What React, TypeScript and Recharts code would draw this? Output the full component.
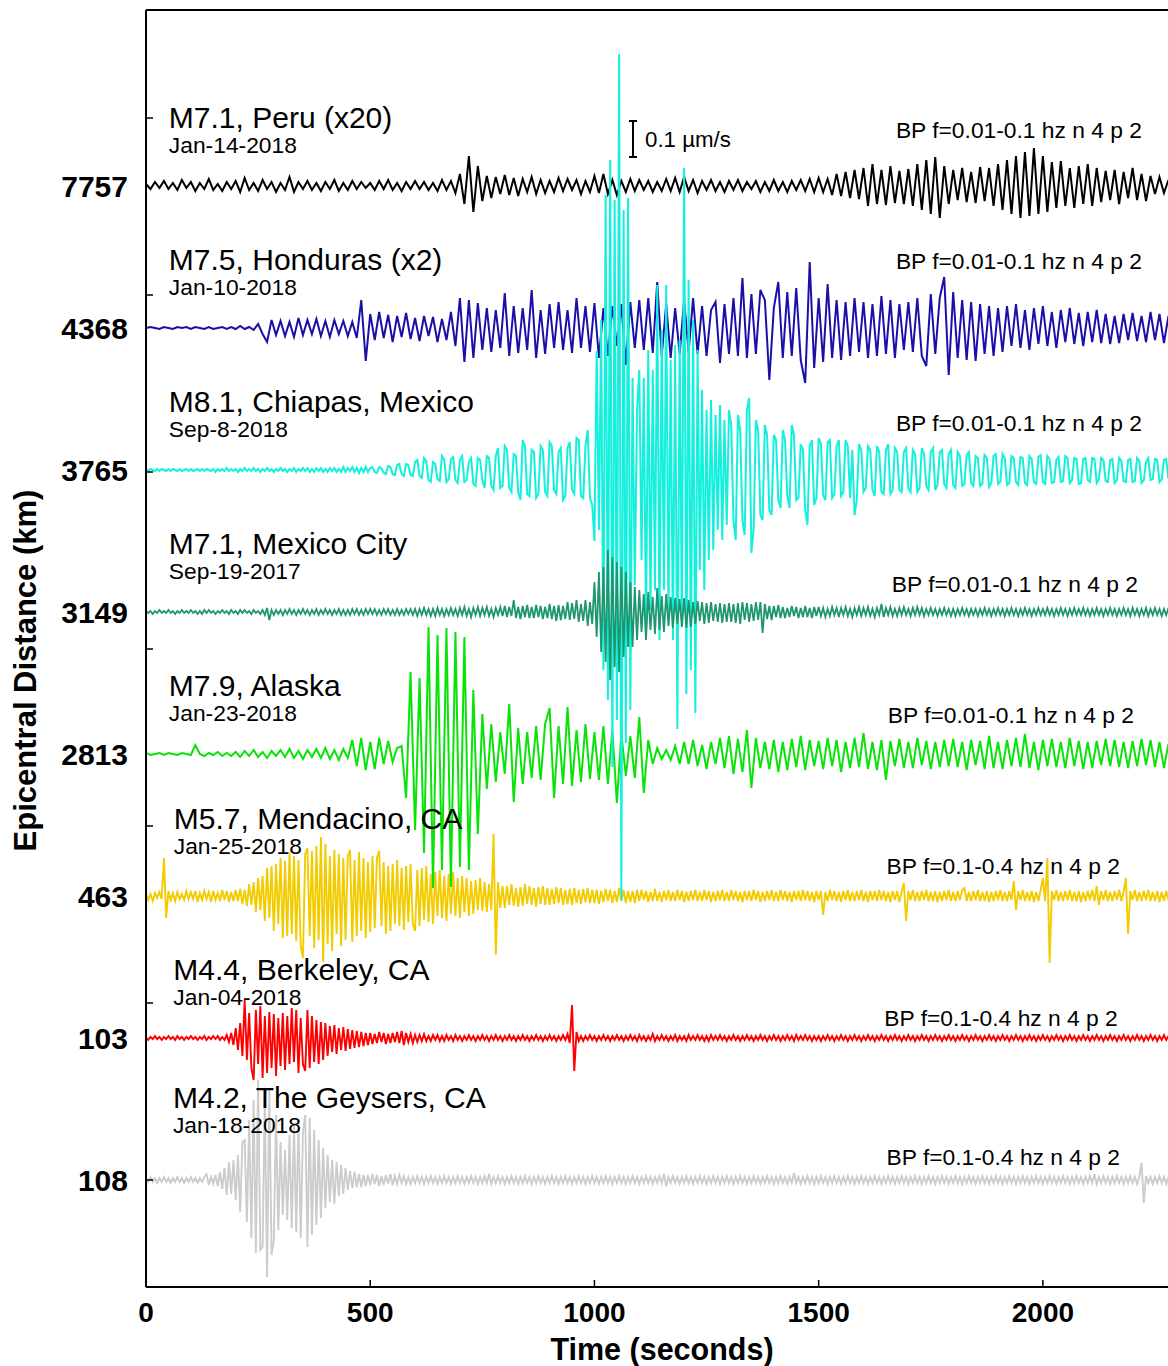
import {
  ComposedChart,
  ErrorBar,
  Line,
  ReferenceLine,
  Scatter,
  XAxis,
  YAxis,
} from "recharts"

// traces are stacked TRACE_GAP apart; amplitudes in the same units
const TRACE_GAP = 142

const EVENTS = [
  "M7.1, Peru (x20)",
  "M7.5, Honduras (x2)",
  "M8.1, Chiapas, Mexico",
  "M7.1, Mexico City",
  "M7.9, Alaska",
  "M5.7, Mendacino, CA",
  "M4.4, Berkeley, CA",
  "M4.2, The Geysers, CA",
]
const DATES = [
  "Jan-14-2018",
  "Jan-10-2018",
  "Sep-8-2018",
  "Sep-19-2017",
  "Jan-23-2018",
  "Jan-25-2018",
  "Jan-04-2018",
  "Jan-18-2018",
]
const DISTANCES = ["7757", "4368", "3765", "3149", "2813", "463", "103", "108"]
const FILTERS = [
  "BP f=0.01-0.1 hz n 4 p 2",
  "BP f=0.01-0.1 hz n 4 p 2",
  "BP f=0.01-0.1 hz n 4 p 2",
  "BP f=0.01-0.1 hz n 4 p 2",
  "BP f=0.01-0.1 hz n 4 p 2",
  "BP f=0.1-0.4 hz n 4 p 2",
  "BP f=0.1-0.4 hz n 4 p 2",
  "BP f=0.1-0.4 hz n 4 p 2",
]
const TIME_TICKS = [0, 500, 1000, 1500, 2000]
const MINOR_TICKS = [0, 177, 354, 531, 708, 885, 1062]
// seconds between samples of each trace
const SAMPLE_SECONDS = [10, 10, 5, 5, 10, 5, 5, 5]

const PERU = [
  2, -3, 4, -2, 5, -3, 3, -4, 6, -2,
  4, -5, 3, -3, 7, -4, 2, -5, 4, -3,
  5, -6, 8, -4, 3, -5, 6, -3, 4, -6,
  3, -4, 9, -6, 4, -3, 5, -4, 3, -5,
  4, -3, 6, -5, 3, -4, 5, -3, 4, -2,
  3, -4, 5, -3, 6, -4, 3, -5, 4, -3,
  5, -3, 4, -4, 3, -5, 6, -4, 5, -7,
  12, -18, 30, -26, 20, -15, 10, -12, 9, -8,
  11, -9, 8, -10, 7, -6, 9, -8, 6, -7,
  5, -6, 8, -5, 7, -4, 6, -8, 5, -6,
  10, -7, 12, -8, 6, -9, 5, -6, 7, -5,
  6, -4, 5, -6, 4, -5, 7, -5, 8, -6,
  9, -5, 6, -7, 5, -4, 6, -5, 4, -6,
  5, -4, 6, -5, 4, -3, 5, -6, 4, -5,
  6, -5, 4, -6, 5, -4, 6, -5, 7, -6,
  8, -6, 7, -9, 12, -10, 14, -12, 16, -13,
  18, -20, 22, -18, 16, -19, 20, -17, 15, -18,
  17, -20, 22, -24, 26, -28, 29, -32, 20, -18,
  16, -14, 18, -16, 14, -17, 19, -15, 18, -20,
  22, -24, 26, -28, 30, -32, 34, -30, 38, -28,
  30, -26, 24, -22, 25, -20, 18, -22, 20, -18,
  22, -20, 18, -16, 15, -14, 16, -18, 14, -12,
  18, -14, 12, -15, 10, -8, 9, -7, 6,
]
const HONDURAS = [
  0, 1, 0, -1, 1, 0, -1, 1, 0, 1,
  -1, 1, 0, -1, 1, -1, 0, 1, -1, 1,
  -1, 2, -1, 1, -2, 4, -6, -14, 8, -7,
  7, -8, 6, -9, 10, -7, 8, -6, 9, -8,
  7, -9, 8, -6, 7, -8, 6, -10, 28, -33,
  14, -12, 16, -10, 13, -14, 12, -9, 15, -11,
  10, -13, 12, -8, 11, -14, 9, -12, 16, -18,
  30, -34, 28, -30, 25, -22, 20, -24, 18, -20,
  35, -28, 22, -25, 20, -22, 38, -30, 18, -26,
  24, -20, 26, -22, 18, -25, 30, -20, 22, -24,
  25, -30, 20, -28, 22, -18, 24, -37, 26, -20,
  28, -22, 30, -25, 46, -28, 24, -30, 20, -26,
  28, -24, 30, -26, 22, -28, 18, 26, -35, 24,
  -26, 30, -28, 50, -30, 34, -26, 38, 28, -52,
  20, 46, -30, 36, -28, 40, -32, -55, 66, -40,
  30, -34, 44, -30, 28, -32, 26, -28, 30, -24,
  26, -30, 24, -28, 32, -26, 28, -30, 24, -22,
  26, -24, 30, -28, -38, 34, -26, 30, 51, -47,
  36, -30, 28, -32, 26, -33, 24, -26, 22, -28,
  20, -24, 22, -18, 24, -20, 18, -22, 20, -16,
  22, -18, 16, -20, 18, -14, 20, -16, 15, -18,
  16, -14, 18, -15, 14, -16, 12, -15, 14, -12,
  15, -13, 12, -14, 16, -12, 14, -15, 12,
]
const CHIAPAS = [
  1, -1, 1, 0, -1, 1, -1, 1, 0, -1, 1, -1, 1, 0, -1, 1, -1, 0, 1, -1,
  1, -1, 0, 1, -1, 1, -1, 1, 0, -1, 1, -2, 1, -1, 1, -1, 2, -1, 1, -1,
  1, -2, 1, -1, 2, -1, 1, -1, 2, -1, 1, -2, 1, -1, 2, -1, 1, -2, 1, -1,
  2, -1, 1, -2, 1, -1, 2, -2, 1, -1, 2, -1, 2, -2, 1, -2, 2, -1, 2, -2,
  1, -2, 2, -1, 2, -2, 1, -2, 3, -2, 2, -1, 3, -2, 2, -3, 2, -2, 3, -2,
  2, 3, -2, -3, 3, 2, -3, -4, 4, 3, -4, -5, 5, 6, -4, -6, 6, 5, -5, -6,
  8, 10, -6, -8, 12, 9, -10, -12, 8, 6, -9, -11, 14, 10, -12, -9, 11, 13, -10, -13,
  10, 14, -12, -10, 8, 12, -14, -16, 12, 10, -10, -18, 14, 12, -16, -20, 14, 22, -18, -16,
  24, 20, -18, -22, 16, 14, -22, -30, 30, 24, -24, -26, 20, 18, -28, -24, 24, 20, -22, -26,
  28, 24, -20, -24, 18, 22, -30, -26, 22, 28, -20, -24, 32, 30, -26, -28, 24, 40, -28, -35,
  -71, 119, -60, 150, -200, 275, -230, 310, -297, 270, -250, 416, -430, 260, -273, 272, -240, 92, -115, 60,
  100, -90, 92, -160, 120, -140, 100, -120, 185, -170, 140, -120, 185, -150, 110, -170, 125, -259, 130, -150,
  302, -224, 190, -200, 150, -243, 120, -100, 80, -120, 60, -90, 70, -80, 55, -60, 65, -70, 50, -55,
  60, 45, -50, -70, 55, 40, -50, -65, 60, 72, -83, -60, 50, 40, -45, -50, 45, 35, -40, -45,
  35, 30, -30, -38, 40, 30, -25, -38, 45, 35, -30, -28, 26, 20, -40, -55, 24, 30, -35, -28,
  32, 26, -25, -30, 28, 30, -28, -24, 24, 30, -26, -22, 30, 24, -28, 20, -45, -30, 26, 20,
  -22, -18, 24, 20, -20, -26, 24, 18, -22, -24, 20, 26, -24, -20, 22, 18, -20, -22, 18, 22,
  -18, -22, 20, 16, -22, -18, 22, 16, -16, -20, 18, 22, -20, -15, 18, 20, -14, -18, 16, 20,
  -15, -18, 18, 14, -16, -14, 15, 18, -13, -16, 14, 12, -16, -14, 15, 12, -17, -13, 14, 16,
  -14, -12, 16, 12, -15, -13, 14, 12, -12, -15, 13, 12, -13, -15, 14, 11, -12, -14, 13, 15,
  -12, -14, 14, 11, -13, -12, 10, 13, -12, -11, 14, 12, -13, -10, 12, 11, -14, -13, 11, 12,
  -10, -12, 12, 11, -13, -9, 12, 10, -11, -12, 10, 11, -13, -10, 12, 9, -11, -12, 10, 11,
  -12, -11, 12, 9, -13, -10, 8, 12, -10, -9, 11, 10, -12, -9, 10, 11, -9,
]
const MEXICO_CITY = [
  1, -1, 1, -2, 1, -1, 2, -1, 1, -1, 2, -1, 1, -2, 1, -1, 2, -1, 1, -1,
  2, -1, 1, -2, 1, -2, 2, -1, 2, -1, 1, -2, 1, -1, 2, -1, 1, -2, 2, -1,
  1, -2, 2, -1, 2, -1, 1, -2, 2, -1, 1, -2, 2, -3, 4, -8, 2, -3, 2, -2,
  2, -3, 2, -2, 3, -2, 2, -3, 2, -2, 3, -2, 2, -3, 2, -2, 3, -3, 2, -2,
  3, -2, 2, -3, 2, -2, 3, -3, 2, -3, 2, -3, 3, -2, 3, -3, 2, -3, 3, -2,
  3, -2, 3, -3, 2, -3, 3, -2, 3, -3, 2, -3, 3, -3, 2, -3, 3, -2, 3, -3,
  3, -4, 3, -3, 4, -3, 3, -4, 3, -4, 4, -3, 3, -4, 3, -3, 4, -3, 3, -4,
  4, -3, 5, -4, 3, -5, 4, -3, 5, -4, 4, -3, 5, -4, 3, -5, 4, -3, 5, -4,
  6, -5, 5, -4, 12, -6, 5, -7, 6, -5, 7, -6, 5, -6, 7, -5, 6, -7, 5, -6,
  8, -7, 6, -9, 7, -8, 6, -7, 10, -8, 9, -7, 12, -10, 8, -9, 12, -14, 10, -12,
  30, -25, 40, -40, 45, -50, 62, -68, 55, -55, 50, -60, 45, -45, 40, -35, 30, -35, 25, -28,
  22, -20, 18, -28, 20, -18, 15, -22, 24, -18, 16, -20, 18, -14, 15, -16, 14, -12, 13, -15,
  14, -16, 12, -15, 10, -12, 11, -9, 10, -12, 9, -11, 10, -9, 8, -10, 9, -11, 8, -10,
  9, -10, 8, -11, 9, -12, 10, -8, 9, -10, 8, -9, 10, -8, 10, -21, 8, -7, 6, -8,
  6, -5, 7, -6, 5, -6, 4, -5, 6, -4, 5, -6, 4, -5, 6, -5, 4, -6, 5, -4,
  5, -4, 4, -5, 3, -4, 5, -3, 4, -5, 4, -3, 5, -4, 3, -5, 4, -3, 5, -4,
  4, -3, 5, -4, 3, -5, 4, -3, 8, -5, 4, -3, 5, -4, 3, -4, 4, -3, 5, -3,
  3, -4, 4, -3, 5, -3, 4, -4, 3, -3, 4, -3, 3, -4, 3, -3, 4, -3, 3, -4,
  3, -4, 3, -3, 4, -3, 3, -4, 3, -3, 3, -4, 3, -3, 4, -3, 3, -4, 3, -3,
  4, -3, 3, -4, 3, -3, 4, -3, 3, -4, 3, -3, 4, -3, 3, -4, 3, -3, 4, -3,
  3, -3, 4, -3, 3, -4, 3, -3, 4, -3, 3, -4, 3, -3, 4, -3, 3, -3, 4, -3,
  3, -4, 3, -3, 4, -3, 3, -4, 3, -3, 4, -3, 3, -4, 3, -3, 4, -3, 3, -4,
  4, -3, 3, -4, 3, -3, 4, -4, 3, -3, 4, -3, 3, -4, 3, -3, 4,
]
const ALASKA = [
  1, -1, 0, 1, -1, 1, 0, -1, 1, 0,
  -1, 9, 0, -2, 1, -1, 2, -2, 1, -2,
  2, -3, 3, -2, 4, -3, 2, -4, 3, -2,
  4, -3, 5, -4, 3, -5, 4, -3, 5, -4,
  6, -5, 4, -6, 5, -4, 14, -12, 16, -16,
  12, -15, 16, -10, 13, -8, 6, 8, -44, 82,
  -76, 76, -99, 127, -134, 119, -116, 126, -133, 122,
  -113, 117, -116, 64, -80, 40, -35, 30, -28, 22,
  -20, 50, -48, 26, -30, 22, -24, 28, -26, 30,
  46, -44, 28, -30, 47, -32, 24, -28, 30, -25,
  22, -26, 28, -30, 24, -49, 20, -22, 18, -24,
  37, -39, 14, -10, 6, -5, 4, -6, 8, -10,
  12, -10, 14, -12, 9, -15, 12, -10, 16, -14,
  18, -20, 15, -18, 24, -34, 16, -14, 12, -15,
  14, -18, 12, -16, 15, -13, 18, -16, 14, -12,
  13, -15, 16, -12, 14, -18, 12, -14, 16, -13,
  21, -15, 12, -16, 14, -26, 13, -12, 15, -14,
  12, -14, 16, -11, 13, -15, 12, -13, 14, -12,
  15, -13, 12, -16, 14, -11, 13, -15, 18, -14,
  12, -15, 14, -12, 16, -13, 20, -14, 12, -16,
  14, -12, 15, -13, 12, -14, 16, -12, 13, -15,
  12, -14, 13, -11, 15, -12, 14, -13, 12, -14,
  13, -12, 15, -11, 14, -13, 12, -14, 10,
]
const MENDOCINO = [
  3, -4, 2, -5, 3, -2, 4, -3, 38, -22, 5, -4, 3, -5, 4, -3, 2, -4, 5, -3,
  4, -3, 5, -6, 3, -4, 5, -3, 4, -6, 5, -4, 3, -5, 6, -4, 5, -6, 4, -5,
  6, -5, 7, -8, 6, -10, 12, -9, 14, -16, 18, -14, 20, -25, 28, -22, 30, -35, 32, -28,
  38, -42, 35, -40, 44, -38, 40, -45, 36, -50, -62, 42, 48, -40, 45, -52, 50, -44, 59, -66,
  52, -48, 40, -55, 46, -38, 42, -50, 38, -44, 40, 46, -46, 36, -40, 44, -35, 38, -42, 34,
  -36, 40, -32, 38, 45, -30, 34, -38, 30, -35, 32, -28, 36, -30, 28, -34, 30, -26, 32, -28,
  -35, 26, -30, 28, -24, 30, -26, 22, -28, 24, -20, 26, -22, 20, -25, 22, -18, 24, -20, 18,
  -22, 20, -16, 18, -20, 15, -18, 16, -14, 18, -15, 14, -16, 12, -14, 62, -59, 14, -12, 10,
  -12, 10, -9, 12, -10, 8, -11, 9, -10, 12, -8, 10, -9, 8, -11, 9, -8, 10, -9, 8,
  -9, 7, -8, 9, -7, 8, -9, 6, -8, 7, -9, 8, -7, 6, -8, 7, -6, 8, -7, 6,
  -7, 6, -8, 5, -6, 7, -5, 6, -7, 5, -6, 8, -5, 6, -7, 5, -6, 5, -7, 6,
  -5, 6, -4, 5, -6, 4, -5, 7, -5, 4, -6, 5, -4, 6, -5, 4, -5, 6, -4, 5,
  -6, 4, -5, 5, -4, 6, -5, 4, -5, 6, -4, 5, -6, 4, -5, 5, -4, 6, -5, 4,
  -5, 6, -4, 5, -5, 4, -6, 5, -4, 5, -5, 6, -4, 5, -6, 4, -5, 5, -4, 6,
  -5, 4, -5, 6, -4, 5, -5, 4, -6, 5, -4, 5, -5, 6, -4, 5, -5, 4, -6, 5,
  -4, 5, -19, 4, -5, 6, -4, 5, -5, 4, -6, 5, -4, 6, -5, 4, -5, 5, -4, 6,
  -5, 4, -6, 5, -4, 5, -5, 6, -4, 5, -5, 4, -6, 5, -4, 5, -6, 4, 13, -25,
  5, -4, 6, -5, 4, -5, 5, -4, 6, -5, 4, -5, 5, -6, 4, -5, 5, -4, 6, -5,
  4, -5, 5, -4, 6, 8, -5, 4, -5, 5, -4, 6, -5, 4, -5, 5, -6, 4, -5, 5,
  -4, 6, -5, 4, -5, 5, -4, 15, -14, 5, -4, 6, -5, 4, -5, 5, -6, 4, -5, 6,
  18, -5, 38, -67, 5, -4, 6, -5, 4, -5, 5, -4, 6, -5, 4, -5, 5, -6, 4, -5,
  5, -4, 6, -5, 10, -9, 5, -4, 6, -5, 4, -5, 5, -4, 6, -5, 4, 18, -38, 5,
  -4, 6, -5, 4, -5, 5, -4, 6, -5, 4, -5, 5, -6, 4, -5, 5, -4,
]
const BERKELEY = [
  1, -2, 1, -1, 2, -1, 1, -2, 1, -1, 2, -1, 1, -2, 2, -1, 1, -2, 1, -1,
  2, -1, 1, -2, 1, -1, 2, -2, 1, -1, 2, -1, 2, -2, 1, -2, 3, -4, 5, -7,
  10, -12, 15, -18, 38, -22, 25, -30, -42, 28, -26, 32, -40, 22, -35, 26, -30, 24, -38, 20,
  -28, 25, -32, 22, -26, 30, -24, 28, -35, 20, -26, -33, 28, -30, 22, -24, 18, -26, 16, -22,
  15, -18, 12, -14, 13, -16, 10, -12, 11, -13, 9, -11, 8, -10, 7, -9, 6, -8, 5, -7,
  5, -6, 4, -5, 6, -4, 5, -6, 4, -5, 5, -4, 6, -5, 7, -7, 5, -4, 4, -5,
  3, -4, 3, -3, 4, -3, 2, -3, 3, -2, 3, -3, 2, -3, 3, -2, 2, -3, 3, -2,
  2, -3, 2, -2, 3, -2, 2, -3, 2, -2, 3, -2, 2, -3, 2, -2, 3, -2, 2, -3,
  2, -2, 3, -2, 2, -3, 2, -2, 3, -2, 2, -3, 2, -2, 3, -2, 2, -3, 2, -2,
  3, -2, 2, -3, 2, -2, 3, -2, 4, -5, 33, -33, 6, -3, 2, -3, 2, -2, 3, -2,
  2, -3, 2, -2, 3, -2, 2, -3, 2, -2, 3, -2, 2, -3, 2, -2, 3, -2, 2, -3,
  3, -2, 2, -3, 2, -2, 4, -3, 2, -2, 3, -2, 2, -3, 2, -2, 3, -3, 2, -2,
  2, -3, 3, -2, 2, -2, 3, -2, 2, -3, 2, -3, 3, -2, 2, -2, 3, -2, 2, -3,
  2, -2, 3, -2, 2, -3, 2, -2, 3, -2, 2, -3, 2, -2, 3, -2, 2, -3, 2, -2,
  3, -2, 2, -3, 2, -2, 3, -2, 2, -3, 3, -2, 2, -2, 3, -2, 2, -3, 2, -2,
  2, -3, 2, -2, 3, -2, 2, -3, 2, -2, 3, -2, 2, -3, 2, -2, 3, -2, 2, -3,
  2, -2, 3, -2, 2, -3, 2, -2, 3, -2, 2, -3, 2, -2, 3, -2, 2, -3, 2, -2,
  3, -2, 2, -3, 2, -2, 3, -2, 2, -3, 2, -2, 3, -2, 2, -3, 2, -2, 3, -2,
  2, -3, 2, -2, 3, -2, 2, -3, 2, -2, 3, -2, 2, -3, 2, -2, 3, -2, 2, -3,
  2, -2, 3, -2, 2, -3, 2, -2, 3, -2, 2, -3, 2, -2, 3, -2, 2, -3, 2, -2,
  3, -2, 2, -3, 2, -2, 3, -2, 2, -3, 2, -2, 3, -2, 2, -3, 2, -2, 3, -2,
  2, -3, 2, -2, 3, -2, 2, -3, 2, -2, 3, -2, 2, -3, 2, -2, 3, -2, 2, -3,
  2, -2, 3, -2, 2, -3, 2, -2, 3, -2, 2, -3, 2, -2, 3, -2, 2,
]
const GEYSERS = [
  2, -2, 3, -2, 2, -3, 2, -2, 3, -2, 2, -3, 2, -2, 3, -2, 2, -3, 2, -2,
  3, -2, 2, -3, 2, -2, 3, 6, -5, 3, -4, 5, -6, 8, -9, 12, -15, 18, -14, 20,
  -20, 25, -32, 38, 40, -42, 60, -58, 80, -73, 100, -70, -67, 85, -97, 90, -75, -60, 65, -50,
  38, -35, 30, -40, 45, -48, 55, -52, 60, -58, 48, 65, -67, 62, -55, 50, -45, 40, -38, 32,
  -28, 25, -22, 20, -24, 18, -16, 15, -14, 12, -10, 9, -8, 8, -7, 6, -7, 5, -6, 5,
  -5, 6, -4, 5, -6, 4, -5, 5, -4, 6, -5, 4, -4, 5, -3, 4, -4, 3, -4, 3,
  -3, 4, -3, 3, -4, 3, -3, 4, -3, 3, -4, 3, -3, 4, -3, 3, -4, 3, -3, 4,
  -3, 3, -4, 3, -3, 4, -3, 3, -4, 3, -3, 4, -3, 6, -4, 3, -3, 4, -3, 3,
  -4, 3, -3, 4, -3, 3, -4, 3, -3, 4, -3, 3, -4, 3, -3, 4, -3, 3, -4, 3,
  -3, 4, -3, 3, -4, 3, -3, 4, -3, 3, -4, 3, -3, 4, -3, 3, -4, 3, -3, 4,
  -3, 3, -4, 3, -3, 4, -3, 3, -4, 3, -3, 4, -3, 3, -4, 3, -3, 4, -3, 3,
  -4, 3, -3, 4, -3, 3, -4, 3, -3, 4, -3, 6, -6, 3, -3, 4, -3, 3, -4, 3,
  -3, 4, -3, 3, -4, 3, -3, 4, -3, 3, -4, 3, -3, 4, -3, 3, -4, 3, -3, 4,
  -3, 3, -4, 3, -3, 4, -3, 3, -4, 3, -3, 4, -3, 3, -4, 3, -3, 4, -3, 3,
  -4, 3, -3, 4, -3, 3, -4, 3, -3, 7, -3, 3, -4, 3, -3, 4, -3, 3, -4, 3,
  -3, 4, -3, 3, -4, 3, -3, 4, -3, 3, -4, 3, -3, 4, -3, 3, -4, 3, -3, 4,
  -3, 3, -4, 3, -3, 4, -3, 3, -4, 3, -3, 4, -3, 3, -4, 3, -3, 4, -3, 3,
  -4, 3, -3, 4, -3, 3, -4, 3, -3, 4, -3, 3, -4, 3, -3, 4, -3, 3, -4, 3,
  -3, 4, -3, 3, -4, 3, -3, 4, -3, 3, -4, 3, -3, 4, -3, 3, -4, 3, -3, 4,
  -3, 3, -4, 3, -3, 4, -3, 3, -4, 3, -3, 4, -3, 3, -4, 3, -3, 4, -3, 3,
  -4, 3, -3, 4, -3, 3, -4, 3, -3, 4, -3, 3, -4, 3, -3, 4, -3, 3, -4, 3,
  -3, 4, -3, 6, -4, 3, -3, 4, -3, 3, -4, 3, -3, 4, -3, 3, -4, 3, -3, 4,
  -3, 3, -4, 3, 17, -23, 4, -3, 3, -4, 3, -3, 4, -3, 3, -4, 3,
]

const TRACES = [PERU, HONDURAS, CHIAPAS, MEXICO_CITY, ALASKA, MENDOCINO, BERKELEY, GEYSERS]
const COLORS = ["#000000", "#1a10a8", "#14f0dc", "#1f9670", "#0ae30a", "#f2cc00", "#ff0000", "#cccccc"]
const WIDTHS = [2, 2, 2, 1.8, 2, 1.9, 1.9, 1.9]
// yellow under green under cyan under teal
const DRAW_ORDER = [7, 6, 5, 4, 0, 1, 2, 3]

// label placement (seconds along x, units above each baseline)
const TITLE_AT = [51, 51, 51, 51, 51, 62, 61, 60]
const TITLE_RISE = [69, 69, 69, 69, 69, 78, 69, 83]
const FILTER_AT = [2221, 2221, 2221, 2212, 2203, 2172, 2167, 2172]
const FILTER_RISE = [56, 67, 47, 28, 39, 30, 20, 23]

const SANS = '"Liberation Sans", Arial, Helvetica, sans-serif'
const X_MAX = 2279
const Y_MIN = -107
const Y_MAX = 1170

const baseOf = (k: number) => (TRACES.length - 1 - k) * TRACE_GAP

const series = TRACES.map((amps, k) =>
  amps.map((a, i) => ({ t: i * SAMPLE_SECONDS[k], v: baseOf(k) + a }))
)
const titles = EVENTS.map((name, k) => ({
  t: TITLE_AT[k],
  v: baseOf(k) + TITLE_RISE[k],
  name,
  date: DATES[k],
}))
const filters = FILTERS.map((text, k) => ({
  t: FILTER_AT[k],
  v: baseOf(k) + FILTER_RISE[k],
  text,
}))
const scaleBar = [{ t: 1086, v: baseOf(0) + 47, err: 18, text: "0.1 µm/s" }]

const baselines = TRACES.map((_, k) => baseOf(k))
const yTicks = Array.from(new Set([...baselines, ...MINOR_TICKS])).sort((a, b) => a - b)

function YTick(props: any) {
  const { x, y, payload } = props
  const k = baselines.indexOf(payload.value)
  return (
    <g>
      {MINOR_TICKS.includes(payload.value) && (
        <line x1={x} x2={x + 7} y1={y} y2={y} stroke="#000" strokeWidth={1.5} />
      )}
      {k >= 0 && (
        <text
          x={x - 18}
          y={y}
          textAnchor="end"
          dominantBaseline="central"
          fontFamily={SANS}
          fontWeight="bold"
          fontSize={30}
          fill="#000"
        >
          {DISTANCES[k]}
        </text>
      )}
    </g>
  )
}

function XTick(props: any) {
  const { x, y, payload } = props
  return (
    <g>
      {payload.value > 0 && (
        <line x1={x} x2={x} y1={y} y2={y - 7} stroke="#000" strokeWidth={1.5} />
      )}
      <text
        x={x}
        y={y + 25}
        textAnchor="middle"
        dominantBaseline="central"
        fontFamily={SANS}
        fontWeight="bold"
        fontSize={28}
        fill="#000"
      >
        {payload.value}
      </text>
    </g>
  )
}

export default function App() {
  return (
    <div
      style={{
        position: "absolute",
        left: 0,
        top: 0,
        width: 1168,
        height: 1366,
        background: "#fff",
      }}
    >
      <ComposedChart
        width={1168}
        height={1366}
        margin={{ top: 10, right: 0, bottom: 0, left: 0 }}
      >
        <XAxis
          dataKey="t"
          type="number"
          domain={[0, X_MAX]}
          allowDataOverflow
          ticks={TIME_TICKS}
          interval={0}
          tickSize={0}
          tickMargin={0}
          tick={<XTick />}
          height={79}
          axisLine={{ stroke: "#000", strokeWidth: 2 }}
          label={{
            content: ({ viewBox }: any) => (
              <text
                x={viewBox.x + viewBox.width / 2 + 5}
                y={viewBox.y + 62}
                textAnchor="middle"
                dominantBaseline="central"
                fontFamily={SANS}
                fontWeight="bold"
                fontSize={30.5}
                fill="#000"
              >
                Time (seconds)
              </text>
            ),
          }}
        />
        <YAxis
          dataKey="v"
          type="number"
          domain={[Y_MIN, Y_MAX]}
          allowDataOverflow
          ticks={yTicks}
          interval={0}
          tickSize={0}
          tickMargin={0}
          tick={<YTick />}
          width={146}
          axisLine={{ stroke: "#000", strokeWidth: 2 }}
          label={{
            content: ({ viewBox }: any) => {
              const cy = viewBox.y + viewBox.height / 2 + 22
              return (
                <text
                  x={25}
                  y={cy}
                  transform={`rotate(-90 25 ${cy})`}
                  textAnchor="middle"
                  dominantBaseline="central"
                  fontFamily={SANS}
                  fontWeight="bold"
                  fontSize={31}
                  fill="#000"
                >
                  Epicentral Distance (km)
                </text>
              )
            },
          }}
        />
        <ReferenceLine y={Y_MAX} stroke="#000" strokeWidth={2} ifOverflow="visible" />

        {DRAW_ORDER.map((k) => (
          <Line
            key={EVENTS[k]}
            data={series[k]}
            dataKey="v"
            type="linear"
            stroke={COLORS[k]}
            strokeWidth={WIDTHS[k]}
            dot={false}
            activeDot={false}
            isAnimationActive={false}
          />
        ))}

        <Scatter
          data={titles}
          dataKey="v"
          isAnimationActive={false}
          shape={(p: any) => (
            <g>
              <text
                x={p.cx}
                y={p.cy}
                dominantBaseline="central"
                fontFamily={SANS}
                fontSize={30}
                fill="#000"
              >
                {p.payload.name}
              </text>
              <text
                x={p.cx}
                y={p.cy + 28}
                dominantBaseline="central"
                fontFamily={SANS}
                fontSize={22.8}
                fill="#000"
              >
                {p.payload.date}
              </text>
            </g>
          )}
        />
        <Scatter
          data={filters}
          dataKey="v"
          isAnimationActive={false}
          shape={(p: any) => (
            <text
              x={p.cx}
              y={p.cy}
              textAnchor="end"
              dominantBaseline="central"
              fontFamily={SANS}
              fontSize={22.8}
              fill="#000"
            >
              {p.payload.text}
            </text>
          )}
        />
        <Scatter
          data={scaleBar}
          dataKey="v"
          isAnimationActive={false}
          shape={(p: any) => (
            <text
              x={p.cx + 12}
              y={p.cy}
              dominantBaseline="central"
              fontFamily={SANS}
              fontSize={22.3}
              fill="#000"
            >
              {p.payload.text}
            </text>
          )}
        >
          <ErrorBar
            dataKey="err"
            direction="y"
            width={4}
            stroke="#000"
            strokeWidth={2}
            isAnimationActive={false}
          />
        </Scatter>
      </ComposedChart>
    </div>
  )
}
